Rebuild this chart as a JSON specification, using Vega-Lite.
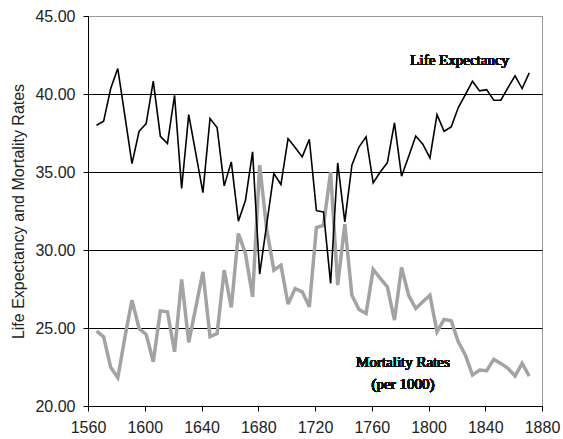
{
  "$schema": "https://vega.github.io/schema/vega-lite/v6.json",
  "autosize": "none",
  "width": 454,
  "height": 390,
  "padding": {"left": 88, "top": 16, "right": 21, "bottom": 33},
  "background": "white",
  "config": {
    "view": {"stroke": "#999999", "strokeWidth": 1},
    "axis": {
      "labelFont": "Liberation Sans",
      "titleFont": "Liberation Sans",
      "labelFontSize": 16,
      "titleFontSize": 16,
      "labelColor": "#222222",
      "titleColor": "#222222",
      "titleFontWeight": "normal",
      "domainColor": "black",
      "tickColor": "black",
      "tickSize": 5
    }
  },
  "data": {
    "values": [
      {"year": 1566, "life": 38.00, "mort": 24.80},
      {"year": 1571, "life": 38.25, "mort": 24.44},
      {"year": 1576, "life": 40.35, "mort": 22.48},
      {"year": 1581, "life": 41.63, "mort": 21.81},
      {"year": 1586, "life": 38.60, "mort": 24.40},
      {"year": 1591, "life": 35.54, "mort": 26.79},
      {"year": 1596, "life": 37.61, "mort": 24.97},
      {"year": 1601, "life": 38.10, "mort": 24.59},
      {"year": 1606, "life": 40.82, "mort": 22.84},
      {"year": 1611, "life": 37.29, "mort": 26.10},
      {"year": 1616, "life": 36.82, "mort": 26.04},
      {"year": 1621, "life": 39.92, "mort": 23.48},
      {"year": 1626, "life": 33.94, "mort": 28.11},
      {"year": 1631, "life": 38.68, "mort": 24.08},
      {"year": 1636, "life": 36.18, "mort": 26.34},
      {"year": 1641, "life": 33.68, "mort": 28.60},
      {"year": 1646, "life": 38.43, "mort": 24.44},
      {"year": 1651, "life": 37.85, "mort": 24.65},
      {"year": 1656, "life": 34.11, "mort": 28.71},
      {"year": 1661, "life": 35.65, "mort": 26.32},
      {"year": 1666, "life": 31.85, "mort": 31.06},
      {"year": 1671, "life": 33.19, "mort": 29.78},
      {"year": 1676, "life": 36.29, "mort": 27.00},
      {"year": 1681, "life": 28.45, "mort": 35.44},
      {"year": 1686, "life": 31.68, "mort": 31.30},
      {"year": 1691, "life": 34.90, "mort": 28.71},
      {"year": 1696, "life": 34.20, "mort": 29.03},
      {"year": 1701, "life": 37.14, "mort": 26.53},
      {"year": 1706, "life": 36.57, "mort": 27.53},
      {"year": 1711, "life": 35.97, "mort": 27.32},
      {"year": 1716, "life": 37.10, "mort": 26.36},
      {"year": 1721, "life": 32.52, "mort": 31.44},
      {"year": 1726, "life": 32.44, "mort": 31.58},
      {"year": 1731, "life": 27.86, "mort": 35.00},
      {"year": 1736, "life": 35.58, "mort": 27.75},
      {"year": 1741, "life": 31.80, "mort": 31.66},
      {"year": 1746, "life": 35.44, "mort": 27.10},
      {"year": 1751, "life": 36.60, "mort": 26.19},
      {"year": 1756, "life": 37.25, "mort": 25.93},
      {"year": 1761, "life": 34.30, "mort": 28.75},
      {"year": 1766, "life": 35.00, "mort": 28.18},
      {"year": 1771, "life": 35.60, "mort": 27.64},
      {"year": 1776, "life": 38.15, "mort": 25.51},
      {"year": 1781, "life": 34.73, "mort": 28.88},
      {"year": 1786, "life": 36.00, "mort": 27.10},
      {"year": 1791, "life": 37.31, "mort": 26.25},
      {"year": 1796, "life": 36.78, "mort": 26.68},
      {"year": 1801, "life": 35.90, "mort": 27.10},
      {"year": 1806, "life": 38.68, "mort": 24.76},
      {"year": 1811, "life": 37.61, "mort": 25.55},
      {"year": 1816, "life": 37.89, "mort": 25.46},
      {"year": 1821, "life": 39.13, "mort": 24.12},
      {"year": 1826, "life": 39.96, "mort": 23.26},
      {"year": 1831, "life": 40.82, "mort": 21.98},
      {"year": 1836, "life": 40.20, "mort": 22.30},
      {"year": 1841, "life": 40.28, "mort": 22.26},
      {"year": 1846, "life": 39.60, "mort": 22.99},
      {"year": 1851, "life": 39.60, "mort": 22.73},
      {"year": 1856, "life": 40.41, "mort": 22.41},
      {"year": 1861, "life": 41.16, "mort": 21.92},
      {"year": 1866, "life": 40.35, "mort": 22.73},
      {"year": 1871, "life": 41.35, "mort": 21.92}
    ]
  },
  "encoding": {
    "x": {
      "field": "year",
      "type": "quantitative",
      "scale": {"domain": [1560, 1880], "nice": false, "zero": false},
      "axis": {
        "title": null,
        "values": [1560, 1600, 1640, 1680, 1720, 1760, 1800, 1840, 1880],
        "format": "d",
        "grid": false,
        "labelPadding": 8,
        "labelFlush": false
      }
    }
  },
  "layer": [
    {
      "mark": {"type": "line", "color": "#a3a3a3", "strokeWidth": 3.5, "strokeJoin": "miter", "strokeMiterLimit": 3},
      "encoding": {
        "y": {
          "field": "mort",
          "type": "quantitative",
          "scale": {"domain": [20, 45], "nice": false, "zero": false},
          "axis": {
            "title": "Life Expectancy and Mortality Rates",
            "values": [20, 25, 30, 35, 40, 45],
            "format": ".2f",
            "grid": true,
            "gridColor": {"condition": {"test": "datum.value === 45", "value": "#999999"}, "value": "black"},
            "gridOpacity": 1,
            "gridWidth": 1,
            "labelPadding": 8,
            "titlePadding": 8,
            "labelFlush": false
          }
        }
      }
    },
    {
      "mark": {"type": "line", "color": "black", "strokeWidth": 1.6},
      "encoding": {
        "y": {"field": "life", "type": "quantitative"}
      }
    },
    {
      "mark": {"type": "text", "text": "Life Expectancy", "font": "Liberation Serif", "fontSize": 15, "fontWeight": "normal", "align": "center", "baseline": "alphabetic", "color": "#111111"},
      "encoding": {
        "x": {"datum": 1822},
        "y": {"datum": 41.84}
      }
    },
    {
      "mark": {"type": "text", "text": ["Mortality Rates", "(per 1000)"], "font": "Liberation Serif", "fontSize": 15, "fontWeight": "normal", "lineHeight": 22, "align": "center", "baseline": "alphabetic", "color": "#111111"},
      "encoding": {
        "x": {"datum": 1782},
        "y": {"datum": 22.51}
      }
    }
  ]
}
